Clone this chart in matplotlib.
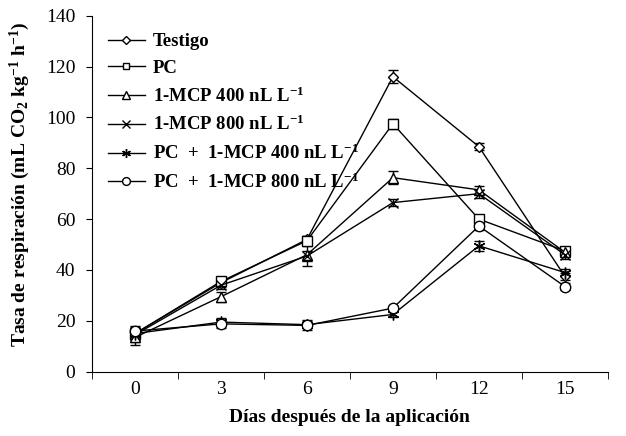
import numpy as np
import matplotlib
matplotlib.use("Agg")
import matplotlib.pyplot as plt

plt.rcParams['font.family'] = ['Liberation Serif', 'DejaVu Serif']
plt.rcParams['mathtext.fontset'] = 'custom'
plt.rcParams['mathtext.rm'] = 'Liberation Serif:bold'
plt.rcParams['mathtext.bf'] = 'Liberation Serif:bold'
plt.rcParams['mathtext.it'] = 'Liberation Serif:bold'

dias = ['0', '3', '6', '9', '12', '15']

testigo = [15, 35, 52, 116, 88.5, 37.5]
testigo_err = [2, 1.5, 1.5, 2.5, 1.5, 1.5]
pc = [15, 35.5, 51.5, 97.5, 60, 47.5]
pc_err = [2, 1.5, 2, 2, 1.5, 1.5]
mcp400 = [13.5, 29.5, 46, 76.3, 71.5, 47]
mcp400_err = [3, 2, 4.5, 2.5, 1.5, 1.5]
mcp800 = [14.5, 34, 45.5, 66.5, 70, 46]
mcp800_err = [3, 1.5, 2, 1.5, 1.5, 1.5]
pc_mcp400 = [15, 19.5, 18.5, 22.5, 49.5, 39]
pc_mcp400_err = [2, 1.5, 1.5, 1, 2, 1.5]
pc_mcp800 = [16, 18.8, 18.2, 25, 57.3, 33.5]
pc_mcp800_err = [2, 1.5, 2, 1, 1.5, 1.5]

series = [
    ('Testigo', testigo, testigo_err, 'D', 5),
    ('PC', pc, pc_err, 's', 6.5),
    ('1-MCP 400 nL L$^{-1}$', mcp400, mcp400_err, '^', 7),
    ('1-MCP 800 nL L$^{-1}$', mcp800, mcp800_err, 'x', 7),
    ('PC  +  1-MCP 400 nL L$^{-1}$', pc_mcp400, pc_mcp400_err, (6, 2, 0), 8.5),
    ('PC  +  1-MCP 800 nL L$^{-1}$', pc_mcp800, pc_mcp800_err, 'o', 7.5),
]

fig = plt.figure(figsize=(6.26, 4.36), dpi=100)
ax = fig.add_axes([0.147, 0.1475, 0.824, 0.8165])

x = np.arange(len(dias))
handles = []
for name, vals, err, mk, ms in series:
    ax.errorbar(x, vals, yerr=err, fmt='none', ecolor='black', elinewidth=1,
                capsize=3.5, capthick=1, zorder=2)
    h, = ax.plot(x, vals, color='black', lw=1, marker=mk, markersize=ms,
                 markerfacecolor='white', markeredgecolor='black',
                 markeredgewidth=1, label=name, zorder=3)
    handles.append(h)

ax.set_xlim(-0.5, len(dias) - 0.5)
ax.set_ylim(0, 140)
ax.set_yticks(np.arange(0, 141, 20))
ax.set_xticks(x)
ax.set_xticklabels(dias)
ax.set_xticks(np.arange(-0.5, len(dias)), minor=True)
ax.tick_params(axis='x', which='major', length=0, pad=7, labelsize=14)
ax.tick_params(axis='x', which='minor', length=5, direction='out')
ax.tick_params(axis='y', length=4, direction='out', pad=8, labelsize=14)

for s in ['top', 'right']:
    ax.spines[s].set_visible(False)

ax.set_xlabel('Días después de la aplicación', fontsize=14, fontweight='bold')
ax.xaxis.set_label_coords(0.5, -0.105)
ax.set_ylabel('Tasa de respiración (mL CO$_2$ kg$^{-1}$ h$^{-1}$)', fontsize=14,
              fontweight='bold')
ax.yaxis.set_label_coords(-0.117, 0.525)

leg = ax.legend(handles=handles, loc='upper left', bbox_to_anchor=(0.0155, 0.972),
                frameon=False, borderaxespad=0, handlelength=2.0,
                handletextpad=0.4, labelspacing=0.5, markerscale=0.75,
                prop={'family': 'Liberation Serif', 'weight': 'bold', 'size': 13.5})

fig.savefig('out.png', dpi=100)
